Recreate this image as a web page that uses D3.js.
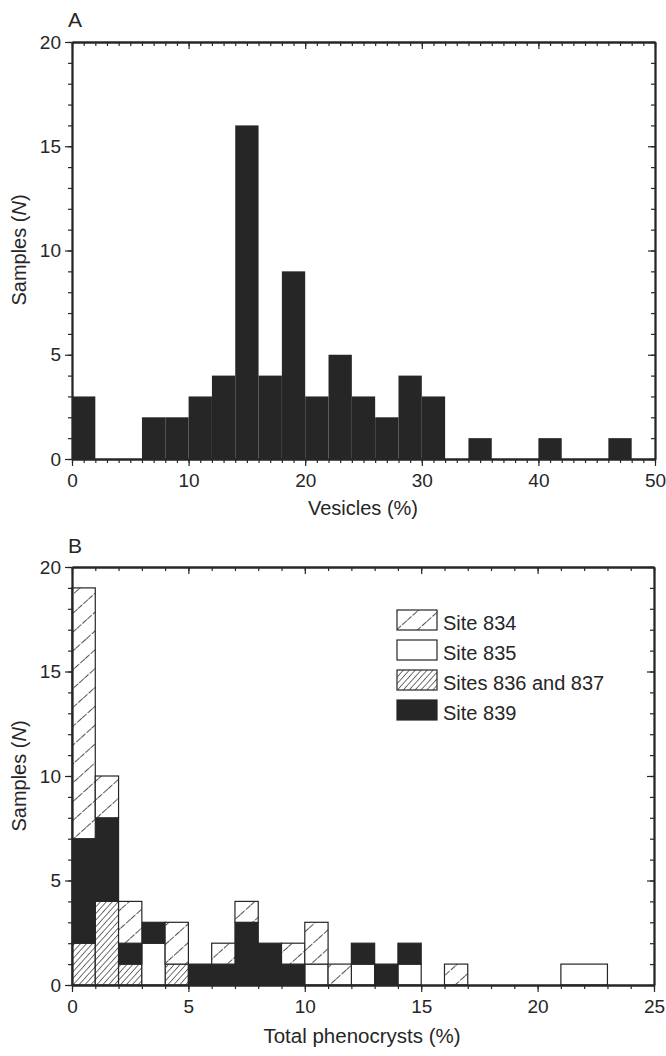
<!DOCTYPE html>
<html>
<head>
<meta charset="utf-8">
<script src="https://cdn.jsdelivr.net/npm/d3@7"></script>
<style>
  body { margin: 0; background: #fff; }
  text { font-family: "Liberation Sans", Arial, sans-serif; fill: #262626; }
</style>
</head>
<body>
<div id="chart"></div>
<script>
// ---- panel A : vesicles, 2 % bins ----
const vesBinStart = [0, 2, 4, 6, 8, 10, 12, 14, 16, 18, 20, 22, 24, 26, 28, 30, 32, 34, 36, 38, 40, 42, 44, 46, 48];
const vesCounts   = [3, 0, 0, 2, 2, 3, 4, 16, 4, 9, 3, 5, 3, 2, 4, 3, 0, 1, 0, 0, 1, 0, 0, 1, 0];

// ---- panel B : total phenocrysts, stacked by site ----
const phenoLo  = [0, 1, 2, 3, 4, 5, 6, 7, 8, 9, 10, 11, 12, 13, 14, 16, 21];
const phenoHi  = [1, 2, 3, 4, 5, 6, 7, 8, 9, 10, 11, 12, 13, 14, 15, 17, 23];
const site836  = [2, 4, 1, 0, 1, 0, 0, 0, 0, 0, 0, 0, 0, 0, 0, 0, 0];
const site835  = [0, 0, 0, 2, 0, 0, 0, 0, 0, 0, 1, 0, 1, 0, 1, 0, 1];
const site839  = [5, 4, 1, 1, 0, 1, 1, 3, 2, 1, 0, 0, 1, 1, 1, 0, 0];
const site834  = [12, 2, 2, 0, 2, 0, 1, 1, 0, 1, 2, 1, 0, 0, 0, 1, 0];

const siteKeys   = ["s836", "s835", "s839", "s834"];   // bottom -> top
const legendKeys = ["s834", "s835", "s836", "s839"];
const legendText = {s834: "Site 834", s835: "Site 835", s836: "Sites 836 and 837", s839: "Site 839"};

const ink = "#262626";
const fills = {s834: "url(#hatchWide)", s835: "#fff", s836: "url(#hatchDense)", s839: "#262626"};

const W = 666, H = 1056;
const svg = d3.select("#chart").append("svg")
  .attr("width", W).attr("height", H);

// hatch patterns
const defs = svg.append("defs");
defs.append("pattern")
    .attr("id", "hatchWide")
    .attr("patternUnits", "userSpaceOnUse")
    .attr("width", 14).attr("height", 14)
    .attr("patternTransform", "rotate(48)")
  .call(p => {
    p.append("rect").attr("width", 14).attr("height", 14).attr("fill", "#fff");
    p.append("line").attr("x1", 0).attr("y1", 0).attr("x2", 0).attr("y2", 14)
      .attr("stroke", ink).attr("stroke-width", 1.6).attr("stroke-dasharray", "6,1.5");
  });
defs.append("pattern")
    .attr("id", "hatchDense")
    .attr("patternUnits", "userSpaceOnUse")
    .attr("width", 4.4).attr("height", 4.4)
    .attr("patternTransform", "rotate(42)")
  .call(p => {
    p.append("rect").attr("width", 4.4).attr("height", 4.4).attr("fill", "#fff");
    p.append("line").attr("x1", 0).attr("y1", 0).attr("x2", 0).attr("y2", 4.4)
      .attr("stroke", ink).attr("stroke-width", 1.3);
  });

// draws the frame: outward labelled ticks left/bottom, inward ticks top/right
function drawFrame(g, x, y, xMajor, xMinor, yMajor, yMinor) {
  const [x0, x1] = x.range(), [y0, y1] = y.range();
  const major = 7, minor = 4;

  g.append("g").attr("transform", `translate(0,${y0})`)
    .call(d3.axisBottom(x).tickValues(xMinor).tickSize(minor).tickSizeOuter(0).tickFormat(""));
  g.append("g").attr("transform", `translate(0,${y0})`)
    .call(d3.axisBottom(x).tickValues(xMajor).tickSize(major).tickSizeOuter(0).tickPadding(8))
    .selectAll("text").attr("font-size", 19);

  g.append("g").attr("transform", `translate(0,${y1})`)
    .call(d3.axisTop(x).tickValues(xMinor).tickSize(-minor).tickSizeOuter(0).tickFormat(""));
  g.append("g").attr("transform", `translate(0,${y1})`)
    .call(d3.axisTop(x).tickValues(xMajor).tickSize(-major).tickSizeOuter(0).tickFormat(""));

  g.append("g").attr("transform", `translate(${x0},0)`)
    .call(d3.axisLeft(y).tickValues(yMinor).tickSize(minor).tickSizeOuter(0).tickFormat(""));
  g.append("g").attr("transform", `translate(${x0},0)`)
    .call(d3.axisLeft(y).tickValues(yMajor).tickSize(major).tickSizeOuter(0).tickPadding(4))
    .selectAll("text").attr("font-size", 19);

  g.append("g").attr("transform", `translate(${x1},0)`)
    .call(d3.axisRight(y).tickValues(yMinor).tickSize(-minor).tickSizeOuter(0).tickFormat(""));
  g.append("g").attr("transform", `translate(${x1},0)`)
    .call(d3.axisRight(y).tickValues(yMajor).tickSize(-major).tickSizeOuter(0).tickFormat(""));

  g.selectAll(".domain").attr("stroke", ink).attr("stroke-width", 1.8);
  g.selectAll(".tick line").attr("stroke", ink).attr("stroke-width", 1.2);
  g.selectAll(".tick text").attr("fill", ink);
}

function yTitle(g, cx, cy) {
  const t = g.append("text")
    .attr("transform", `translate(${cx},${cy}) rotate(-90)`)
    .attr("text-anchor", "middle").attr("font-size", 20);
  t.append("tspan").text("Samples (");
  t.append("tspan").attr("font-style", "italic").text("N");
  t.append("tspan").text(")");
}

// ================= panel A =================
const xA = d3.scaleLinear().domain([0, 50]).range([72, 655]);
const yA = d3.scaleLinear().domain([0, 20]).range([459, 42]);
const gA = svg.append("g");

gA.selectAll("rect.bar")
  .data(vesBinStart.map((s, i) => ({s, n: vesCounts[i]})).filter(d => d.n > 0))
  .join("rect")
    .attr("class", "bar")
    .attr("x", d => xA(d.s))
    .attr("width", d => xA(d.s + 2) - xA(d.s))
    .attr("y", d => yA(d.n))
    .attr("height", d => yA(0) - yA(d.n))
    .attr("fill", "#262626");

drawFrame(gA, xA, yA, d3.range(0, 51, 10), d3.range(0, 51, 1), d3.range(0, 21, 5), d3.range(0, 21, 1));

gA.append("text").attr("x", 75).attr("y", 27).attr("text-anchor", "middle")
  .attr("font-size", 21).text("A");
gA.append("text").attr("x", 363).attr("y", 515).attr("text-anchor", "middle")
  .attr("font-size", 20).text("Vesicles (%)");
yTitle(gA, 26, 250);

// ================= panel B =================
const xB = d3.scaleLinear().domain([0, 25]).range([72, 654]);
const yB = d3.scaleLinear().domain([0, 20]).range([985, 567]);
const gB = svg.append("g");

const rowsB = phenoLo.map((lo, i) => ({
  lo, hi: phenoHi[i],
  s836: site836[i], s835: site835[i], s839: site839[i], s834: site834[i]
}));
const stacked = d3.stack().keys(siteKeys)(rowsB);

stacked.forEach(layer => {
  gB.selectAll(null)
    .data(layer.filter(d => d[1] > d[0]))
    .join("rect")
      .attr("x", d => xB(d.data.lo))
      .attr("width", d => xB(d.data.hi) - xB(d.data.lo))
      .attr("y", d => yB(d[1]))
      .attr("height", d => yB(d[0]) - yB(d[1]))
      .attr("fill", fills[layer.key])
      .attr("stroke", ink)
      .attr("stroke-width", 1.2);
});

drawFrame(gB, xB, yB, d3.range(0, 26, 5), d3.range(0, 26, 1), d3.range(0, 21, 5), d3.range(0, 21, 1));

// legend
const leg = gB.append("g").attr("transform", "translate(397,610)");
leg.selectAll("g")
  .data(legendKeys)
  .join("g")
    .attr("transform", (d, i) => `translate(0,${i * 30})`)
    .call(r => {
      r.append("rect").attr("width", 40).attr("height", 20)
        .attr("fill", d => fills[d]).attr("stroke", ink).attr("stroke-width", 1.2);
      r.append("text").attr("x", 46).attr("y", 20).attr("font-size", 20)
        .text(d => legendText[d]);
    });

gB.append("text").attr("x", 75).attr("y", 553).attr("text-anchor", "middle")
  .attr("font-size", 21).text("B");
gB.append("text").attr("x", 362).attr("y", 1043).attr("text-anchor", "middle")
  .attr("font-size", 20.5).text("Total phenocrysts (%)");
yTitle(gB, 26, 776);
</script>
</body>
</html>
